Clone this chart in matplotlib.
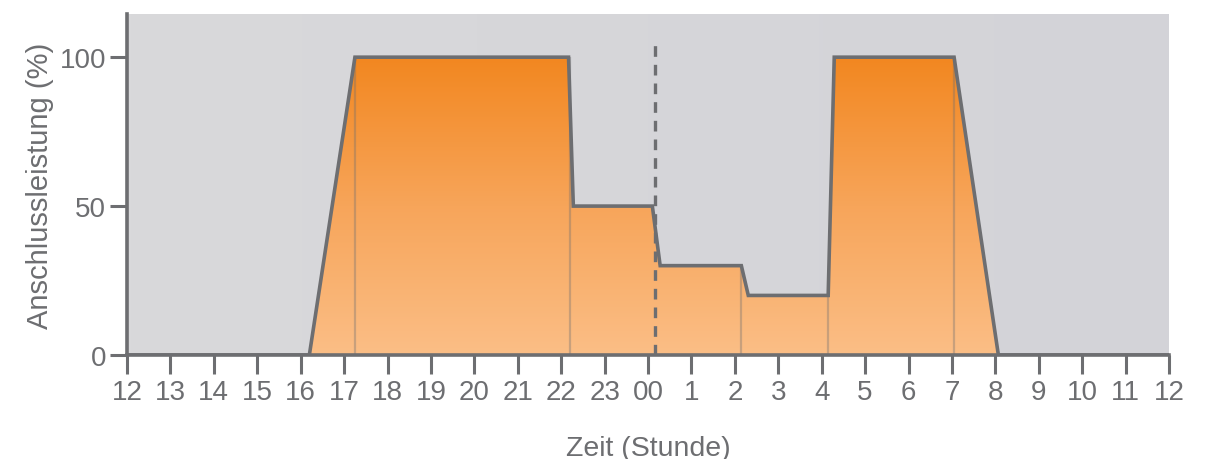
import numpy as np
import matplotlib.pyplot as plt
from matplotlib.colors import LinearSegmentedColormap

plt.rcParams['font.family'] = ['Liberation Sans', 'DejaVu Sans']

# Stunden ab 12 Uhr mittags, Leistung in %
stunden = [0, 4.2, 5.25, 10.17, 10.28, 12.1, 12.28, 14.15, 14.31, 16.15, 16.29, 19.05, 20.07, 24]
leistung = [0, 0, 100, 100, 50, 50, 30, 30, 20, 20, 100, 100, 0, 0]
# Übergänge mit schwacher senkrechter Linie
trenn_x = [5.25, 10.2, 14.15, 16.15, 19.05]
trenn_y = [100, 100, 30, 20, 100]
mitternacht = 12.17
tick_labels = ["12", "13", "14", "15", "16", "17", "18", "19", "20", "21", "22", "23",
               "00", "1", "2", "3", "4", "5", "6", "7", "8", "9", "10", "11", "12"]

grau = "#6d6e71"
ymax = 114.5

fig = plt.figure(figsize=(12.17, 4.6), dpi=100)
ax = fig.add_axes([127 / 1217, 1 - 356 / 460, (1169 - 127) / 1217, (356 - 15) / 460])
ax.set_xlim(0, 24)
ax.set_ylim(0, ymax)

# Hintergrund-Verlauf
bg = LinearSegmentedColormap.from_list("bg", ["#d9d9db", "#d3d3d8"])
ax.imshow(np.linspace(0, 1, 256).reshape(1, -1), cmap=bg, aspect="auto",
          extent=[0, 24, 0, ymax], zorder=0)

# Orange Verlauf in der Fläche
og = LinearSegmentedColormap.from_list("og", ["#fbbe86", "#f7a55a", "#f28720"])
poly = ax.fill_between(stunden, leistung, 0, color="none", lw=0, zorder=1)
img = ax.imshow(np.linspace(0, 1, 256).reshape(-1, 1), cmap=og, aspect="auto",
                origin="lower", extent=[0, 24, 0, 100], zorder=1)
img.set_clip_path(poly.get_paths()[0], transform=ax.transData)

ax.vlines(trenn_x, 0, trenn_y, color=grau, alpha=0.35, lw=1.6, zorder=2)
ax.plot(stunden, leistung, color=grau, lw=2.6, solid_joinstyle="miter", zorder=3)
ax.plot([mitternacht, mitternacht], [0, 106.5], color=grau, lw=2.4,
        dashes=(3.2, 2.4), zorder=4)

for s in ["top", "right"]:
    ax.spines[s].set_visible(False)
for s in ["left", "bottom"]:
    ax.spines[s].set_color(grau)
    ax.spines[s].set_linewidth(2.6)
    ax.spines[s].set_zorder(5)

ax.set_xticks(range(25))
ax.set_xticklabels(tick_labels)
ax.set_yticks([0, 50, 100])
ax.tick_params(axis="x", length=14, width=2.2, color=grau, labelcolor=grau,
               labelsize=20, pad=3)
ax.tick_params(axis="y", length=12, width=2.2, color=grau, labelcolor=grau,
               labelsize=20, pad=3)

ax.set_xlabel("Zeit (Stunde)", color=grau, fontsize=20.5, labelpad=22)
ax.set_ylabel("Anschlussleistung (%)", color=grau, fontsize=21, labelpad=4)

fig.savefig("out.png", dpi=100)
